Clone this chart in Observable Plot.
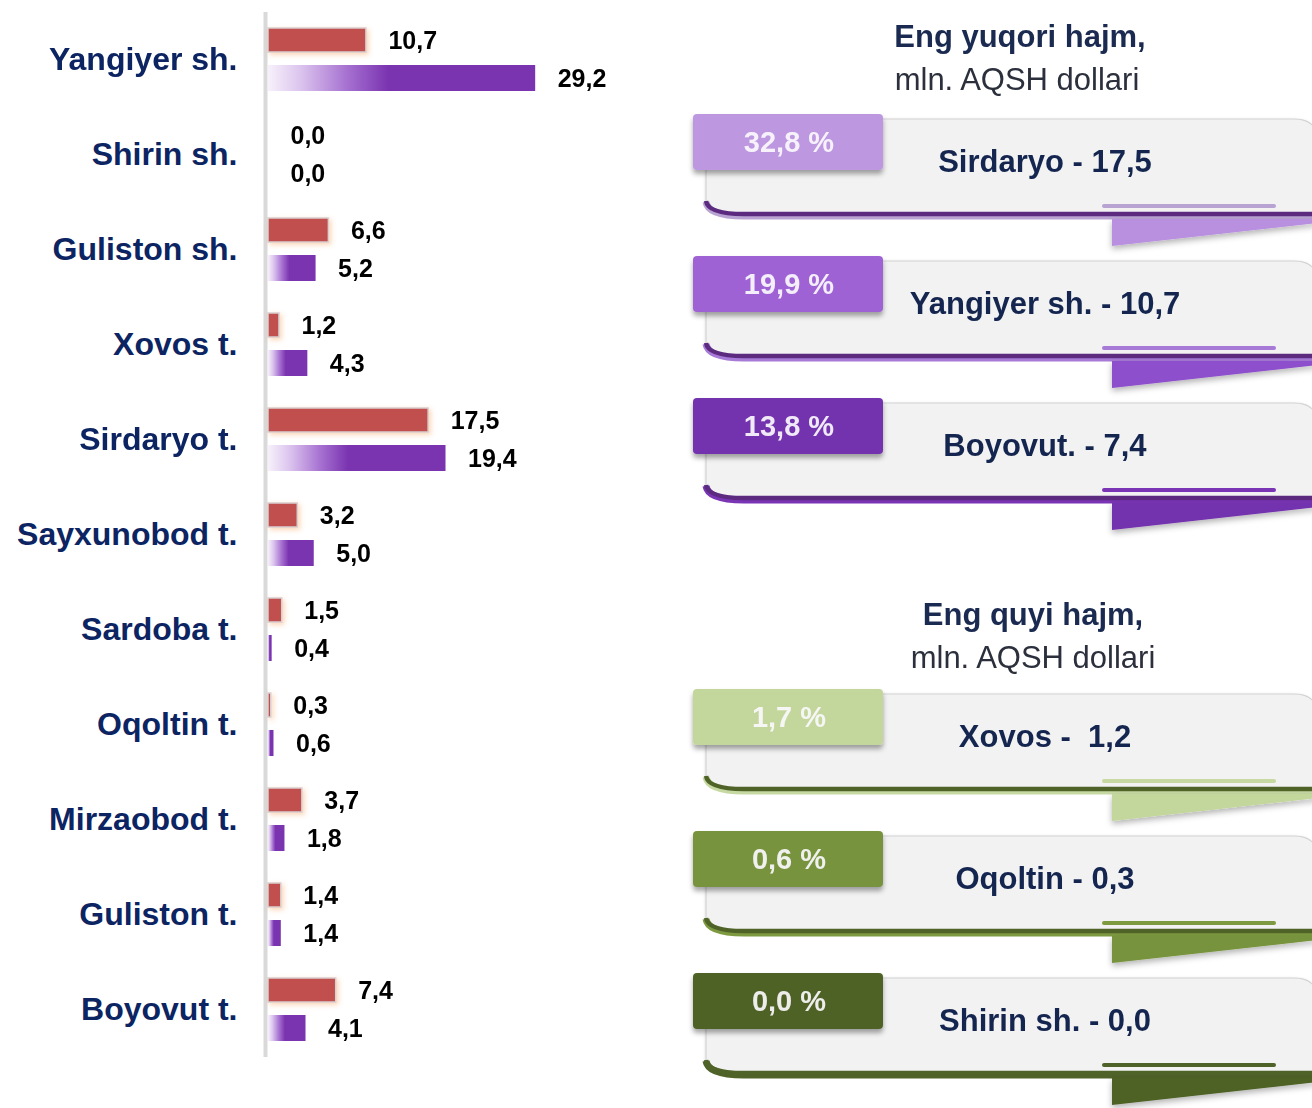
<!DOCTYPE html>
<html><head><meta charset="utf-8">
<script src="https://cdn.jsdelivr.net/npm/d3@7"></script>
<script src="https://cdn.jsdelivr.net/npm/@observablehq/plot@0.6"></script>
<style>
body{margin:0;background:#fff;font-family:"Liberation Sans",Arial,sans-serif;}
#wrap{position:relative;width:1312px;height:1108px;overflow:hidden;background:#fff;}
#chart{position:absolute;left:0;top:0;}
#side{position:absolute;left:0;top:0;pointer-events:none;}
#side text{white-space:pre;}
</style></head><body>
<div id="wrap"><div id="chart"></div><svg id="side" width="1312" height="1108"></svg></div>
<script>
// ---- data ----
const districts = ["Yangiyer sh.","Shirin sh.","Guliston sh.","Xovos t.","Sirdaryo t.","Sayxunobod t.","Sardoba t.","Oqoltin t.","Mirzaobod t.","Guliston t.","Boyovut t."];
const valuesRed = [10.7, 0.0, 6.6, 1.2, 17.5, 3.2, 1.5, 0.3, 3.7, 1.4, 7.4];
const valuesPurple = [29.2, 0.0, 5.2, 4.3, 19.4, 5.0, 0.4, 0.6, 1.8, 1.4, 4.1];

const topTitle = ["Eng yuqori hajm,", "mln. AQSH dollari"];
const topNames = ["Sirdaryo - 17,5", "Yangiyer sh. - 10,7", "Boyovut. - 7,4"];
const topShares = [32.8, 19.9, 13.8];
const lowTitle = ["Eng quyi hajm,", "mln. AQSH dollari"];
const lowNames = ["Xovos -  1,2", "Oqoltin - 0,3", "Shirin sh. - 0,0"];
const lowShares = [1.7, 0.6, 0.0];

const fmt = v => v.toFixed(1).replace(".", ",");

const rows = [];
districts.forEach((d, i) => {
  rows.push({district: d, series: "a", value: valuesRed[i]});
  rows.push({district: d, series: "b", value: valuesPurple[i]});
});

const chart = Plot.plot({
  width: 660, height: 1080,
  marginLeft: 268, marginRight: 26, marginTop: 12, marginBottom: 23,
  style: {fontFamily: "'Liberation Sans', Arial, sans-serif", background: "transparent"},
  x: {domain: [0, 40], axis: null},
  y: {domain: ["a", "b"], axis: null, paddingInner: 0.308, paddingOuter: 0.372},
  fy: {domain: districts, axis: null, padding: 0},
  marks: [
    Plot.ruleX([0], {dx: -3, stroke: "#d9d9d9", strokeWidth: 4}),
    Plot.barX(rows.filter(r => r.series === "a"), {
      x: "value", y: "series", fy: "district",
      fill: "#c0504d", stroke: "#d9cfcf", strokeWidth: 1.5, insetTop: 1, insetBottom: 1
    }),
    Plot.barX(rows.filter(r => r.series === "b"), {
      x: "value", y: "series", fy: "district",
      fill: "url(#purpleGrad)"
    }),
    Plot.text(rows, {
      x: "value", y: "series", fy: "district", text: d => fmt(d.value),
      dx: 22, textAnchor: "start", fontSize: 25, fontWeight: "bold", fill: "#000"
    }),
    Plot.text(districts, {
      fy: d => d, frameAnchor: "left", textAnchor: "end", dx: -31, text: d => d,
      fontSize: 32, fontWeight: "bold", fill: "#0c2462"
    })
  ]
});
const defs = d3.select(chart).insert("defs", ":first-child");
defs.html(`
  <linearGradient id="purpleGrad" x1="0" x2="1" y1="0" y2="0">
    <stop offset="0" stop-color="#f7f1fb"/>
    <stop offset="0.12" stop-color="#dcc5ee"/>
    <stop offset="0.3" stop-color="#a56fd0"/>
    <stop offset="0.45" stop-color="#7a34b0"/>
    <stop offset="1" stop-color="#7a34b0"/>
  </linearGradient>
  <filter id="redGlow" x="-10%" y="-40%" width="120%" height="180%">
    <feDropShadow dx="2" dy="2" stdDeviation="2.5" flood-color="#f7a15a" flood-opacity="0.45"/>
  </filter>`);
d3.select(chart).selectAll("g[aria-label='bar']").filter((d, i) => i === 0).attr("filter", "url(#redGlow)");
document.getElementById("chart").appendChild(chart);

// ---- right side panels ----
const side = d3.select("#side");
side.append("defs").html(`
  <filter id="tagShadow" x="-10%" y="-20%" width="120%" height="160%">
    <feDropShadow dx="0" dy="4" stdDeviation="2.5" flood-color="#000" flood-opacity="0.35"/>
  </filter>
  <filter id="bodyShadow" x="-5%" y="-10%" width="110%" height="130%">
    <feDropShadow dx="0" dy="1" stdDeviation="1.5" flood-color="#000" flood-opacity="0.15"/>
  </filter>
  <filter id="ribShadow" x="-10%" y="-30%" width="120%" height="200%">
    <feDropShadow dx="0" dy="3" stdDeviation="3" flood-color="#000" flood-opacity="0.3"/>
  </filter>`);

const purpleSet = {tags: ["#bd98e0", "#9f62d4", "#7331ae"], line: "#5c2b80", accents: ["#b9a3d3", "#a67ad6", "#7a35b5"], ribbons: ["#b98fe0", "#8d4fcb", "#7331ae"]};
const greenSet = {tags: ["#c3d69b", "#77933c", "#4f6228"], line: "#4f6228", accents: ["#c7d9a3", "#7d9a40", "#4f6228"], ribbons: ["#c3d69b", "#77933c", "#4f6228"]};

function title(lines, cx, y) {
  side.append("text").attr("x", cx[0]).attr("y", y).attr("text-anchor", "middle")
    .attr("font-size", 31).attr("font-weight", "bold").attr("fill", "#1a2a50").text(lines[0]);
  side.append("text").attr("x", cx[1]).attr("y", y + 43).attr("text-anchor", "middle")
    .attr("font-size", 31).attr("fill", "#2b303c").text(lines[1]);
}

function panel(top, i, set, share, label) {
  const g = side.append("g");
  const yb = top + 101;
  g.append("path")
    .attr("d", `M706,${top + 5} H1294 Q1318,${top + 5} 1318,${top + 28} V${yb} H742 Q706,${yb} 706,${yb - 14} Z`)
    .attr("fill", "#f2f2f2").attr("stroke", "#d2d2d2").attr("stroke-width", 1.2).attr("filter", "url(#bodyShadow)");
  g.append("path")
    .attr("d", `M706,${yb - 13} Q708,${yb + 1} 744,${yb + 1} H1318`)
    .attr("fill", "none").attr("stroke", set.accents[i]).attr("stroke-width", 7);
  g.append("path")
    .attr("d", `M706,${yb - 14} Q708,${yb - 1} 744,${yb - 1} H1318`)
    .attr("fill", "none").attr("stroke", set.line).attr("stroke-width", 4.5);
  g.append("line").attr("x1", 1104).attr("x2", 1274).attr("y1", yb - 9).attr("y2", yb - 9)
    .attr("stroke", set.accents[i]).attr("stroke-width", 4).attr("stroke-linecap", "round");
  g.append("polygon")
    .attr("points", `1112,${yb + 4} 1318,${yb + 4} 1318,${yb + 8} 1112,${yb + 31}`)
    .attr("fill", set.ribbons[i]).attr("filter", "url(#ribShadow)");
  g.append("rect").attr("x", 693).attr("y", top).attr("width", 190).attr("height", 56).attr("rx", 4)
    .attr("fill", set.tags[i]).attr("filter", "url(#tagShadow)");
  g.append("text").attr("x", 789).attr("y", top + 38).attr("text-anchor", "middle")
    .attr("font-size", 29).attr("font-weight", "bold").attr("fill", "#fbf8fd").attr("fill-opacity", 0.92)
    .text(fmt(share) + " %");
  g.append("text").attr("x", 1045).attr("y", top + 58).attr("text-anchor", "middle")
    .attr("font-size", 31).attr("font-weight", "bold").attr("fill", "#14254f").text(label);
}

title(topTitle, [1020, 1017], 47);
title(lowTitle, [1033, 1033], 625);
const topTops = [114, 256, 398];
const lowTops = [689, 831, 973];
topNames.forEach((n, i) => panel(topTops[i], i, purpleSet, topShares[i], n));
lowNames.forEach((n, i) => panel(lowTops[i], i, greenSet, lowShares[i], n));
</script>
</body></html>
